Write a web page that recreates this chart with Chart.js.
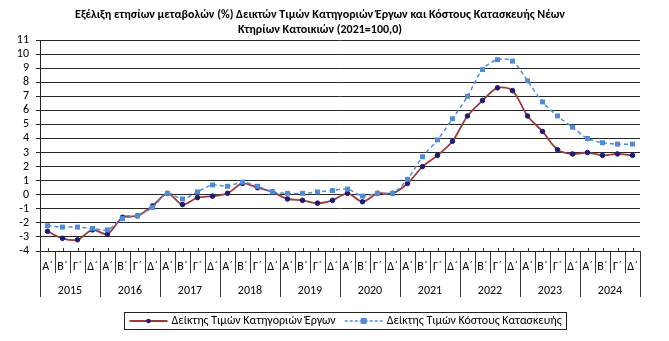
<!DOCTYPE html>
<html>
<head>
<meta charset="utf-8">
<script src="https://cdn.jsdelivr.net/npm/chart.js@4.4.1/dist/chart.umd.min.js"></script>
<style>
    html, body { margin: 0; padding: 0; background: #fff; }
    #wrap { width: 669px; height: 341px; }
</style>
</head>
<body>
<div id="wrap"><canvas id="chart" width="669" height="341"></canvas></div>
<script>
// Quarters and years for the two-level x axis
const quarters = ['Α΄', 'Β΄', 'Γ΄', 'Δ΄'];
const years = ['2015', '2016', '2017', '2018', '2019', '2020', '2021', '2022', '2023', '2024'];

// Annual % change, one value per quarter
const worksIndex = [
    -2.6, -3.1, -3.2, -2.5,
    -2.8, -1.6, -1.5, -0.8,
     0.1, -0.7, -0.2, -0.1,
     0.1,  0.8,  0.5,  0.2,
    -0.3, -0.4, -0.6, -0.4,
     0.1, -0.5,  0.1,  0.1,
     0.8,  2.0,  2.8,  3.8,
     5.6,  6.7,  7.6,  7.4,
     5.6,  4.5,  3.2,  2.9,
     3.0,  2.8,  2.9,  2.8
];
const costIndex = [
    -2.2, -2.3, -2.3, -2.4,
    -2.5, -1.7, -1.5, -0.9,
     0.1, -0.3,  0.2,  0.7,
     0.6,  0.9,  0.6,  0.2,
     0.1,  0.1,  0.2,  0.3,
     0.4, -0.1,  0.1,  0.1,
     1.1,  2.7,  3.9,  5.4,
     7.0,  8.9,  9.6,  9.5,
     8.1,  6.6,  5.6,  4.8,
     4.0,  3.7,  3.6,  3.6
];

const seriesNames = ['Δείκτης Τιμών Κατηγοριών Έργων', 'Δείκτης Τιμών Κόστους Κατασκευής'];
const titleLines = [
    'Εξέλιξη ετησίων μεταβολών (%) Δεικτών Τιμών Κατηγοριών Έργων και Κόστους Κατασκευής Νέων',
    'Κτηρίων Κατοικιών (2021=100,0)'
];

const FONT = "Carlito, 'Noto Sans', sans-serif";
const RED = '#9e3b3b';
const NAVY = '#1d1d78';
const BLUE = '#4f8bd9';

const labels = [];
years.forEach(y => quarters.forEach(q => labels.push(q)));

// quarter / year rows under the plot, plus the boxed legend
const axisAndLegend = {
    id: 'axisAndLegend',
    afterDraw(chart) {
        const ctx = chart.ctx;
        const x = chart.scales.x;
        const area = chart.chartArea;
        const step = x.getPixelForValue(1) - x.getPixelForValue(0);
        const base = area.bottom;

        ctx.save();
        ctx.lineWidth = 1;
        ctx.strokeStyle = '#333';
        // small ticks at category centers
        labels.forEach((_, i) => {
            const cx = Math.round(x.getPixelForValue(i)) + 0.5;
            ctx.beginPath();
            ctx.moveTo(cx, base - 3);
            ctx.lineTo(cx, base);
            ctx.stroke();
        });
        // separators
        for (let i = 0; i <= labels.length; i++) {
            const sx = Math.round(x.getPixelForValue(0) - step / 2 + i * step) + 0.5;
            const len = i % 4 === 0 ? 46 : 22;
            ctx.beginPath();
            ctx.moveTo(sx, base);
            ctx.lineTo(sx, base + len);
            ctx.stroke();
        }

        ctx.fillStyle = '#000';
        ctx.textAlign = 'center';
        ctx.textBaseline = 'middle';
        ctx.font = '12px ' + FONT;
        labels.forEach((q, i) => ctx.fillText(q, x.getPixelForValue(i), base + 16));
        years.forEach((y, j) => {
            const mid = (x.getPixelForValue(j * 4) + x.getPixelForValue(j * 4 + 3)) / 2;
            ctx.fillText(y, mid, base + 40);
        });

        // legend
        ctx.font = '12px ' + FONT;
        const sample = 38;
        const w0 = ctx.measureText(seriesNames[0]).width;
        const w1 = ctx.measureText(seriesNames[1]).width;
        const total = 5 + sample + 4 + w0 + 9 + sample + 4 + w1 + 5;
        const cx = 345.5;
        const left = Math.round(cx - total / 2) + 0.5;
        const top = 312.5, h = 17;
        const midY = top + h / 2;
        ctx.strokeStyle = '#222';
        ctx.setLineDash([]);
        ctx.strokeRect(left, top, Math.round(total), h);

        let px = left + 5;
        ctx.strokeStyle = RED;
        ctx.lineWidth = 2;
        ctx.beginPath();
        ctx.moveTo(px, midY);
        ctx.lineTo(px + sample, midY);
        ctx.stroke();
        ctx.fillStyle = NAVY;
        ctx.beginPath();
        ctx.arc(px + sample / 2, midY, 2.3, 0, Math.PI * 2);
        ctx.fill();
        px += sample + 4;
        ctx.fillStyle = '#000';
        ctx.textAlign = 'left';
        ctx.fillText(seriesNames[0], px, midY);
        px += w0 + 9;

        ctx.strokeStyle = BLUE;
        ctx.lineWidth = 1.5;
        ctx.setLineDash([3, 2]);
        ctx.beginPath();
        ctx.moveTo(px, midY);
        ctx.lineTo(px + sample, midY);
        ctx.stroke();
        ctx.setLineDash([]);
        ctx.fillStyle = BLUE;
        ctx.fillRect(px + sample / 2 - 3, midY - 3, 6, 6);
        px += sample + 4;
        ctx.fillStyle = '#000';
        ctx.fillText(seriesNames[1], px, midY);
        ctx.restore();
    }
};

new Chart(document.getElementById('chart'), {
    type: 'line',
    data: {
        labels: labels,
        datasets: [
            {
                label: seriesNames[0],
                data: worksIndex,
                borderColor: RED,
                borderWidth: 1.8,
                tension: 0.3,
                pointStyle: 'circle',
                pointRadius: 2.3,
                pointBackgroundColor: NAVY,
                pointBorderColor: NAVY,
                pointBorderWidth: 1,
                order: 1
            },
            {
                label: seriesNames[1],
                data: costIndex,
                borderColor: BLUE,
                borderWidth: 1.5,
                borderDash: [4, 3],
                tension: 0.3,
                pointStyle: 'rect',
                pointRadius: 3.5,
                pointBackgroundColor: BLUE,
                pointBorderColor: BLUE,
                pointBorderWidth: 0,
                order: 0
            }
        ]
    },
    options: {
        responsive: false,
        animation: false,
        layout: { padding: { left: 0, right: 29, top: 0, bottom: 0 } },
        scales: {
            x: {
                offset: true,
                grid: { display: false },
                border: { display: true, color: '#222', width: 1 },
                ticks: { display: false },
                afterFit: scale => { scale.height = 90; }
            },
            y: {
                min: -4,
                max: 11,
                ticks: {
                    stepSize: 1,
                    autoSkip: false,
                    padding: 7,
                    color: '#000',
                    font: { family: FONT, size: 12 }
                },
                grid: { color: '#262626', tickLength: 4 },
                border: { display: true, color: '#222', width: 1 },
                afterFit: scale => { scale.width = 40; }
            }
        },
        plugins: {
            legend: { display: false },
            tooltip: { enabled: false },
            title: {
                display: true,
                text: titleLines,
                color: '#000',
                font: { family: FONT, size: 12, weight: 'bold', lineHeight: 15 / 12 },
                padding: { top: 7, bottom: 3 }
            }
        }
    },
    plugins: [axisAndLegend]
});
</script>
</body>
</html>
